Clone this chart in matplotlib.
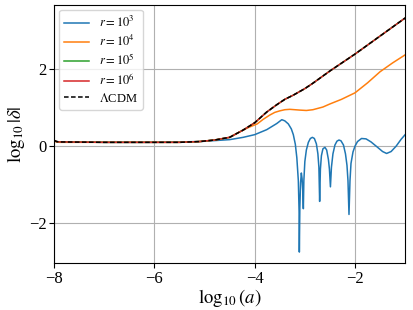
import matplotlib
matplotlib.use('Agg')
import matplotlib.pyplot as plt

plt.rcParams['font.family'] = ['Liberation Serif', 'DejaVu Serif']
plt.rcParams['mathtext.fontset'] = 'stix'

# LCDM growth (r=1e5 and r=1e6 lie on top of it)
x_lcdm = [-8.0, -7.95, -7.9, -7.0, -6.0, -5.5, -5.1, -4.8, -4.5, -4.23, -4.0,
          -3.76, -3.56, -3.4, -3.23, -3.0, -2.84, -2.5, -2.0, -1.5, -1.0]
y_lcdm = [0.15, 0.12, 0.11, 0.10, 0.10, 0.10, 0.12, 0.16, 0.23, 0.42, 0.61,
          0.89, 1.08, 1.22, 1.33, 1.50, 1.64, 1.96, 2.40, 2.87, 3.34]

# r = 1e4
x_r4 = [-8.0, -7.95, -7.9, -7.0, -6.0, -5.5, -5.1, -4.8, -4.5, -4.23, -4.1,
        -3.95, -3.83, -3.70, -3.60, -3.50, -3.40, -3.30, -3.10, -2.97, -2.84,
        -2.64, -2.50, -2.27, -2.0, -1.75, -1.5, -1.25, -1.0]
y_r4 = [0.13, 0.11, 0.10, 0.10, 0.10, 0.10, 0.12, 0.16, 0.23, 0.42, 0.50,
        0.58, 0.70, 0.81, 0.88, 0.92, 0.95, 0.96, 0.94, 0.93, 0.95,
        1.02, 1.10, 1.22, 1.39, 1.65, 1.94, 2.17, 2.38]

# r = 1e3
x_r3 = [-8.0, -7.9, -7.0, -6.0, -5.1, -4.5, -4.23, -4.0, -3.76, -3.56, -3.46,
        -3.40, -3.33, -3.27, -3.23, -3.19, -3.16, -3.13, -3.115, -3.11, -3.10,
        -3.085, -3.07, -3.055, -3.04, -3.03, -3.02, -3.0, -2.97, -2.93, -2.89,
        -2.85, -2.81, -2.77, -2.74, -2.72, -2.705, -2.69, -2.67, -2.64, -2.60,
        -2.565, -2.53, -2.51, -2.49, -2.47, -2.44, -2.40, -2.36, -2.32, -2.28,
        -2.23, -2.19, -2.16, -2.14, -2.12, -2.10, -2.08, -2.04, -2.0, -1.95,
        -1.87, -1.78, -1.68, -1.55, -1.45, -1.37, -1.28, -1.18, -1.08, -1.0]
y_r3 = [0.13, 0.11, 0.10, 0.10, 0.12, 0.17, 0.23, 0.30, 0.43, 0.59, 0.69,
        0.66, 0.58, 0.45, 0.30, 0.05, -0.30, -0.90, -1.70, -2.76, -1.60,
        -0.95, -0.70, -0.85, -1.20, -1.63, -0.90, -0.40, -0.10, 0.10, 0.20,
        0.23, 0.20, 0.06, -0.20, -0.55, -1.44, -0.60, -0.25, -0.07, -0.03,
        -0.10, -0.35, -0.60, -1.06, -0.55, -0.20, 0.03, 0.13, 0.16, 0.14,
        0.03, -0.20, -0.50, -0.90, -1.78, -0.90, -0.45, -0.15, 0.0, 0.12,
        0.20, 0.19, 0.11, -0.03, -0.14, -0.19, -0.14, 0.0, 0.18, 0.30]

fig = plt.figure(figsize=(4.13, 3.10), dpi=100)
ax = fig.add_axes([0.131, 0.151, 0.850, 0.833])

lw = 1.1
ax.plot(x_r3, y_r3, color='C0', lw=lw, label=r'$r=10^3$')
ax.plot(x_r4, y_r4, color='C1', lw=lw, label=r'$r=10^4$')
ax.plot(x_lcdm, y_lcdm, color='C2', lw=lw, label=r'$r=10^5$')
ax.plot(x_lcdm, y_lcdm, color='C3', lw=lw, label=r'$r=10^6$')
ax.plot(x_lcdm, y_lcdm, color='k', ls=(0, (3.0, 1.6)), lw=lw,
        label=r'$\Lambda$CDM')

ax.set_xlim(-8, -1)
ax.set_ylim(-3.05, 3.68)
ax.set_xticks([-8, -6, -4, -2])
ax.set_yticks([-2, 0, 2])
ax.tick_params(labelsize=12, pad=2)
ax.set_xlabel(r'$\log_{10}(a)$', fontsize=13.5, labelpad=0)
ax.set_ylabel(r'$\log_{10}|\delta|$', fontsize=13.5, labelpad=1)
ax.grid(True)
ax.legend(loc='upper left', fontsize=9, labelspacing=0.3, borderaxespad=0.4)

fig.savefig('out.png', dpi=100)
